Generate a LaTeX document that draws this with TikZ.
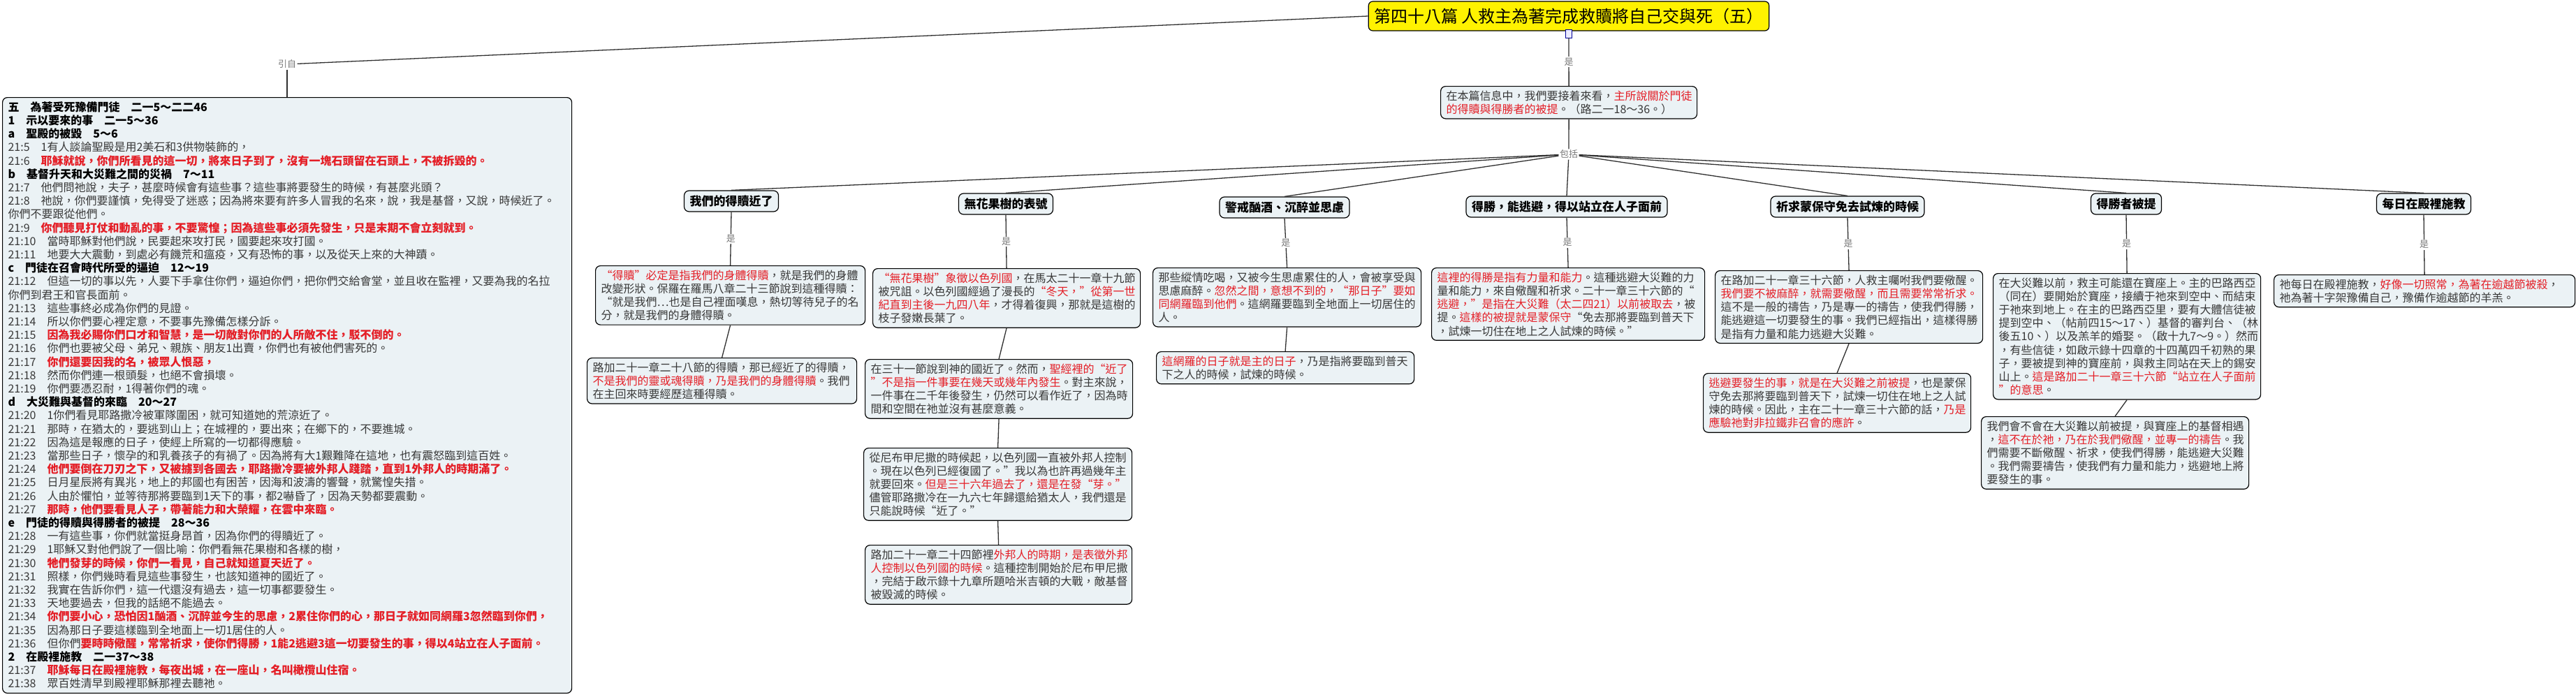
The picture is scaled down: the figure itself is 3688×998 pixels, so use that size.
\documentclass[tikz,border=0pt]{standalone}
\usepackage{fontspec}
\usepackage{xcolor}
\usepackage{tikz}
\setmainfont{Noto Sans CJK TC}
\definecolor{boxbg}{HTML}{EBF2F5}
\definecolor{txtgrey}{HTML}{383838}
\definecolor{hlred}{HTML}{E41E26}
\definecolor{lblgrey}{HTML}{7A7A7A}
\definecolor{linegrey}{HTML}{303030}
\newcommand{\redtx}[1]{{\color{hlred}#1}}
\newcommand{\redbold}[1]{{\bfseries\color{hlred}#1}}
\newcommand{\hdline}[1]{{\bfseries\color{black}#1}}
\tikzset{
  box/.style={draw=black, line width=1.2pt, rounded corners=7pt, fill=boxbg},
  note/.style={box, anchor=north west, align=left, inner xsep=8pt, inner ysep=6pt, text=txtgrey, font=\fontsize{16}{19.2}\selectfont},
  topic/.style={box, font=\fontsize{17}{20}\selectfont\bfseries, text=black, minimum height=30pt, inner xsep=8pt},
  lbl/.style={fill=white, text=lblgrey, inner sep=1.5pt, font=\fontsize{13}{15}\selectfont},
  link/.style={draw=linegrey, line width=1.3pt}
}

\begin{document}
\begin{tikzpicture}[x=1pt,y=-1pt]
    \useasboundingbox (0,0) rectangle (3688,998);

    \node[box, fill=yellow, rounded corners=6pt, font=\fontsize{24}{28}\selectfont, minimum height=42pt, inner xsep=8pt] (title) at (2246,23) {第四十八篇 人救主為著完成救贖將自己交與死（五）};
    \node[draw=blue!60!black, fill=blue!8, line width=0.8pt, minimum width=9pt, minimum height=12pt, inner sep=0pt] (memo) at (2246,48) {};
    \node[lbl] (src) at (411,92) {引自};
    \node[note, text width=351pt] (top) at (2062,123) {在本篇信息中，我們要接着來看，\redtx{主所說關於門徒}\\
\redtx{的得贖與得勝者的被提}。（路二一18～36。）};
    \node[lbl] (hub) at (2246,221) {包括};

    \node[note, text width=799pt] (panel) at (3,139) {\hdline{五　為著受死豫備門徒　二一5～二二46}\\
\hdline{1　示以要來的事　二一5～36}\\
\hdline{a　聖殿的被毀　5～6}\\
21:5　1有人談論聖殿是用2美石和3供物裝飾的，\\
21:6　\redbold{耶穌就說，你們所看見的這一切，將來日子到了，沒有一塊石頭留在石頭上，不被拆毀的。}\\
\hdline{b　基督升天和大災難之間的災禍　7～11}\\
21:7　他們問祂說，夫子，甚麼時候會有這些事？這些事將要發生的時候，有甚麼兆頭？\\
21:8　祂說，你們要謹慎，免得受了迷惑；因為將來要有許多人冒我的名來，說，我是基督，又說，時候近了。\\
你們不要跟從他們。\\
21:9　\redbold{你們聽見打仗和動亂的事，不要驚惶；因為這些事必須先發生，只是末期不會立刻就到。}\\
21:10　當時耶穌對他們說，民要起來攻打民，國要起來攻打國。\\
21:11　地要大大震動，到處必有饑荒和瘟疫，又有恐怖的事，以及從天上來的大神蹟。\\
\hdline{c　門徒在召會時代所受的逼迫　12～19}\\
21:12　但這一切的事以先，人要下手拿住你們，逼迫你們，把你們交給會堂，並且收在監裡，又要為我的名拉\\
你們到君王和官長面前。\\
21:13　這些事終必成為你們的見證。\\
21:14　所以你們要心裡定意，不要事先豫備怎樣分訴。\\
21:15　\redbold{因為我必賜你們口才和智慧，是一切敵對你們的人所敵不住，駁不倒的。}\\
21:16　你們也要被父母、弟兄、親族、朋友1出賣，你們也有被他們害死的。\\
21:17　\redbold{你們還要因我的名，被眾人恨惡，}\\
21:18　然而你們連一根頭髮，也絕不會損壞。\\
21:19　你們要憑忍耐，1得著你們的魂。\\
\hdline{d　大災難與基督的來臨　20～27}\\
21:20　1你們看見耶路撒冷被軍隊圍困，就可知道她的荒涼近了。\\
21:21　那時，在猶太的，要逃到山上；在城裡的，要出來；在鄉下的，不要進城。\\
21:22　因為這是報應的日子，使經上所寫的一切都得應驗。\\
21:23　當那些日子，懷孕的和乳養孩子的有禍了。因為將有大1艱難降在這地，也有震怒臨到這百姓。\\
21:24　\redbold{他們要倒在刀刃之下，又被擄到各國去，耶路撒冷要被外邦人踐踏，直到1外邦人的時期滿了。}\\
21:25　日月星辰將有異兆，地上的邦國也有困苦，因海和波濤的響聲，就驚惶失措。\\
21:26　人由於懼怕，並等待那將要臨到1天下的事，都2嚇昏了，因為天勢都要震動。\\
21:27　\redbold{那時，他們要看見人子，帶著能力和大榮耀，在雲中來臨。}\\
\hdline{e　門徒的得贖與得勝者的被提　28～36}\\
21:28　一有這些事，你們就當挺身昂首，因為你們的得贖近了。\\
21:29　1耶穌又對他們說了一個比喻：你們看無花果樹和各樣的樹，\\
21:30　\redbold{牠們發芽的時候，你們一看見，自己就知道夏天近了。}\\
21:31　照樣，你們幾時看見這些事發生，也該知道神的國近了。\\
21:32　我實在告訴你們，這一代還沒有過去，這一切事都要發生。\\
21:33　天地要過去，但我的話絕不能過去。\\
21:34　\redbold{你們要小心，恐怕因1酗酒、沉醉並今生的思慮，2累住你們的心，那日子就如同網羅3忽然臨到你們，}\\
21:35　因為那日子要這樣臨到全地面上一切1居住的人。\\
21:36　但你們\redbold{要時時儆醒，常常祈求，使你們得勝，1能2逃避3這一切要發生的事，得以4站立在人子面前。}\\
\hdline{2　在殿裡施教　二一37～38}\\
21:37　\redbold{耶穌每日在殿裡施教，每夜出城，在一座山，名叫橄欖山住宿。}\\
21:38　眾百姓清早到殿裡耶穌那裡去聽祂。};

    \node[topic] (redeem) at (1047,288) {我們的得贖近了};
    \node[topic] (figtree) at (1440,292) {無花果樹的表號};
    \node[topic] (warn) at (1839,297) {警戒酗酒、沉醉並思慮};
    \node[topic] (overcome) at (2243,296) {得勝，能逃避，得以站立在人子面前};
    \node[topic] (pray) at (2645,296) {祈求蒙保守免去試煉的時候};
    \node[topic] (rapture) at (3044,292) {得勝者被提};
    \node[topic] (teach) at (3470,292) {每日在殿裡施教};

    \node[note, text width=370pt] (redeemA) at (852,380) {\redtx{“得贖”必定是指我們的身體得贖}，就是我們的身體\\
改變形狀。保羅在羅馬八章二十三節說到這種得贖：\\
“就是我們…也是自己裡面嘆息，熱切等待兒子的名\\
分，就是我們的身體得贖。};
    \node[note, text width=370pt] (redeemB) at (840,512) {路加二十一章二十八節的得贖，那已經近了的得贖，\\
\redtx{不是我們的靈或魂得贖，乃是我們的身體得贖}。我們\\
在主回來時要經歷這種得贖。};

    \node[note, text width=367pt] (figA) at (1249,384) {\redtx{“無花果樹”象徵以色列國}，在馬太二十一章十九節\\
被咒詛。以色列國經過了漫長的\redtx{“冬天，”從第一世}\\
\redtx{紀直到主後一九四八年}，才得着復興，那就是這樹的\\
枝子發嫩長葉了。};
    \node[note, text width=367pt] (figB) at (1238,514) {在三十一節說到神的國近了。然而，\redtx{聖經裡的“近了}\\
\redtx{”不是指一件事要在幾天或幾年內發生}。對主來說，\\
一件事在二千年後發生，仍然可以看作近了，因為時\\
間和空間在祂並沒有甚麼意義。};
    \node[note, text width=368pt] (figC) at (1236,641) {從尼布甲尼撒的時候起，以色列國一直被外邦人控制\\
。現在以色列已經復國了。”我以為也許再過幾年主\\
就要回來。\redtx{但是三十六年過去了，還是在發“芽。”}\\
儘管耶路撒冷在一九六七年歸還給猶太人，我們還是\\
只能說時候“近了。”};
    \node[note, text width=366pt] (figD) at (1238,780) {路加二十一章二十四節裡\redtx{外邦人的時期，是表徵外邦}\\
\redtx{人控制以色列國的時候}。這種控制開始於尼布甲尼撒\\
，完結于啟示錄十九章所題哈米吉頓的大戰，敵基督\\
被毀滅的時候。};

    \node[note, text width=368pt] (warnA) at (1650,383) {那些縱情吃喝，又被今生思慮累住的人，會被享受與\\
思慮麻醉。\redtx{忽然之間，意想不到的，“那日子”要如}\\
\redtx{同網羅臨到他們}。這網羅要臨到全地面上一切居住的\\
人。};
    \node[note, text width=353pt] (warnB) at (1655,503) {\redtx{這網羅的日子就是主的日子}，乃是指將要臨到普天\\
下之人的時候，試煉的時候。};

    \node[note, text width=375pt] (overA) at (2049,383) {\redtx{這裡的得勝是指有力量和能力}。這種逃避大災難的力\\
量和能力，來自儆醒和祈求。二十一章三十六節的“\\
\redtx{逃避，”是指在大災難（太二四21）以前被取去}，被\\
提。\redtx{這樣的被提就是蒙保守}“免去那將要臨到普天下\\
，試煉一切住在地上之人試煉的時候。”};

    \node[note, text width=367pt] (prayA) at (2455,387) {在路加二十一章三十六節，人救主囑咐我們要儆醒。\\
\redtx{我們要不被麻醉，就需要儆醒，而且需要常常祈求。}\\
這不是一般的禱告，乃是專一的禱告，使我們得勝，\\
能逃避這一切要發生的事。我們已經指出，這樣得勝\\
是指有力量和能力逃避大災難。};
    \node[note, text width=367pt] (prayB) at (2438,534) {\redtx{逃避要發生的事，就是在大災難之前被提}，也是蒙保\\
守免去那將要臨到普天下，試煉一切住在地上之人試\\
煉的時候。因此，主在二十一章三十六節的話，\redtx{乃是}\\
\redtx{應驗祂對非拉鐵非召會的應許}。};

    \node[note, text width=367pt] (raptA) at (2853,391) {在大災難以前，救主可能還在寶座上。主的巴路西亞\\
（同在）要開始於寶座，接續于祂來到空中、而結束\\
于祂來到地上。在主的巴路西亞里，要有大體信徒被\\
提到空中、（帖前四15～17、）基督的審判台、（林\\
後五10、）以及羔羊的婚娶。（啟十九7～9。）然而\\
，有些信徒，如啟示錄十四章的十四萬四千初熟的果\\
子，要被提到神的寶座前，與救主同站在天上的錫安\\
山上。\redtx{這是路加二十一章三十六節“站立在人子面前}\\
\redtx{”的意思}。};
    \node[note, text width=367pt] (raptB) at (2836,596) {我們會不會在大災難以前被提，與寶座上的基督相遇\\
，\redtx{這不在於祂，乃在於我們儆醒，並專一的禱告}。我\\
們需要不斷儆醒、祈求，使我們得勝，能逃避大災難\\
。我們需要禱告，使我們有力量和能力，逃避地上將\\
要發生的事。};

    \node[note, text width=415pt] (teachA) at (3255,393) {祂每日在殿裡施教，\redtx{好像一切照常，為著在逾越節被殺}，\\
祂為著十字架豫備自己，豫備作逾越節的羊羔。};

    \draw[link] (title.west) -- (src);
    \draw[link] (src) -- (src |- panel.north);
    \draw[link] (memo.south) -- node[lbl] {是} (top.north);
    \draw[link] (top.south) -- (hub);
    \foreach \t in {redeem,figtree,warn,overcome,pray,rapture,teach}
        \draw[link] (hub) -- (\t.north);

    \draw[link] (redeem.south) -- node[lbl] {是} (redeemA.north);
    \draw[link] (redeemA.south) -- (redeemB.north);
    \draw[link] (figtree.south) -- node[lbl] {是} (figA.north);
    \draw[link] (figA.south) -- (figB.north);
    \draw[link] (figB.south) -- (figC.north);
    \draw[link] (figC.south) -- (figD.north);
    \draw[link] (warn.south) -- node[lbl] {是} (warnA.north);
    \draw[link] (warnA.south) -- (warnB.north);
    \draw[link] (overcome.south) -- node[lbl] {是} (overA.north);
    \draw[link] (pray.south) -- node[lbl] {是} (prayA.north);
    \draw[link] (prayA.south) -- (prayB.north);
    \draw[link] (rapture.south) -- node[lbl] {是} (raptA.north);
    \draw[link] (raptA.south) -- (raptB.north);
    \draw[link] (teach.south) -- node[lbl] {是} (teachA.north);
\end{tikzpicture}
\end{document}
